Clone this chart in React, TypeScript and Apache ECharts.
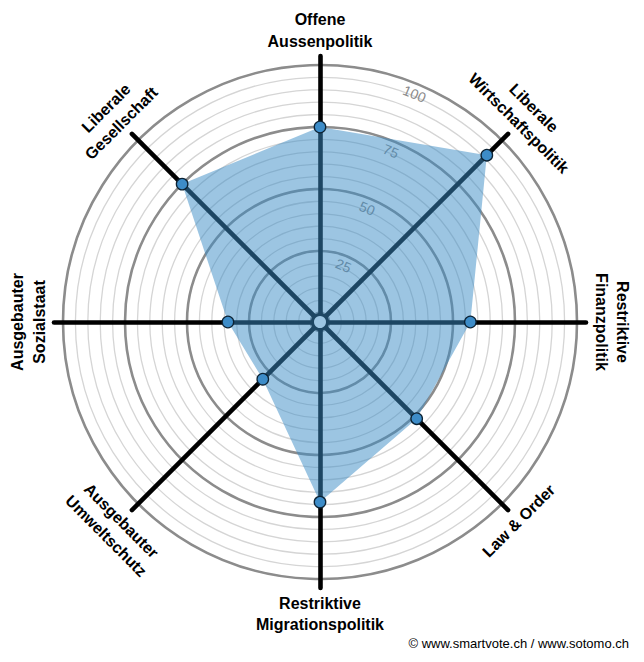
import React, { useEffect, useRef } from 'react';
import * as echarts from 'echarts';

// Categories in the radar's own order (counter-clockwise, starting at the top)
const categories = [
  'Offene\nAussenpolitik',
  'Liberale\nGesellschaft',
  'Ausgebauter\nSozialstaat',
  'Ausgebauter\nUmweltschutz',
  'Restriktive\nMigrationspolitik',
  'Law & Order',
  'Restriktive\nFinanzpolitik',
  'Liberale\nWirtschaftspolitik',
];
const values = [75, 75, 33.5, 29, 69, 51.5, 57, 91.5];
const tickValues = [25, 50, 75, 100];
const credit = '© www.smartvote.ch / www.sotomo.ch';

const CX = 320;
const CY = 322;
const R_ZERO = 9;
const R_FULL = 257;
const R_AXIS = 266;
const UNIT = (R_FULL - R_ZERO) / 100;
const AXIS_MIN = -R_ZERO / UNIT;
const AXIS_MAX = 100 + (R_AXIS - R_FULL) / UNIT;

const FONT_FAMILY = '"Liberation Sans", Arial, Helvetica, sans-serif';
const LABEL_SIZE = 16;

function buildLabels() {
  const els: any[] = [];
  const n = categories.length;
  categories.forEach((c, i) => {
    const deg = (360 - (360 / n) * i) % 360; // clockwise from top
    const theta = (deg * Math.PI) / 180;
    const inward = deg > 90 && deg < 270;
    const lines = c.split('\n');
    const ordered = inward ? lines : [...lines].reverse();
    ordered.forEach((txt, k) => {
      const r = 281 + 21.5 * k;
      const x = CX + r * Math.sin(theta);
      const y = CY - r * Math.cos(theta);
      const rot = inward ? Math.PI - theta : -theta;
      els.push({
        type: 'text',
        x,
        y,
        rotation: rot,
        z: 10,
        style: {
          text: txt,
          x: 0,
          y: 0,
          fill: '#000',
          font: `bold ${LABEL_SIZE}px ${FONT_FAMILY}`,
          fontWeight: 'bold',
          fontSize: LABEL_SIZE,
          fontFamily: FONT_FAMILY,
          align: 'center',
          verticalAlign: 'middle',
          textAlign: 'center',
          textVerticalAlign: 'middle',
        },
      });
    });
  });
  return els;
}

export default function App() {
  const ref = useRef<HTMLDivElement>(null);
  useEffect(() => {
    if (!ref.current) return;
    const chart = echarts.init(ref.current, null, { renderer: 'svg' });
    const polarRadius = [R_ZERO, R_FULL];
    chart.setOption({
      animation: false,
      backgroundColor: '#fff',
      polar: [
        { center: [CX, CY], radius: polarRadius },
        { center: [CX, CY], radius: polarRadius },
      ],
      angleAxis: [
        { polarIndex: 0, type: 'value', min: 0, max: 360, show: false, startAngle: 67.5 },
        { polarIndex: 1, type: 'value', min: 0, max: 360, show: false, startAngle: 67.5 },
      ],
      radiusAxis: [
        {
          polarIndex: 0,
          type: 'value',
          min: 0,
          max: 100,
          interval: 5,
          z: 0,
          axisLine: { show: false },
          axisTick: { show: false },
          axisLabel: { show: false },
          splitLine: { show: true, lineStyle: { color: '#d5d5d5', width: 1.3 } },
        },
        {
          polarIndex: 1,
          type: 'value',
          min: 0,
          max: 100,
          interval: 25,
          z: 0,
          axisLine: { show: false },
          axisTick: { show: false },
          axisLabel: {
            show: true,
            rotate: -22.5,
            margin: 0,
            align: 'center',
            verticalAlign: 'top',
            padding: [3, 0, 0, 0],
            color: '#8a8a8a',
            fontSize: 14,
            fontFamily: FONT_FAMILY,
            formatter: (v: number) => (tickValues.includes(v) ? String(v) : ''),
          },
          splitLine: { show: true, lineStyle: { color: '#8c8c8c', width: 2.6 } },
        },
      ],
      radar: {
        center: [CX, CY],
        radius: R_AXIS,
        startAngle: 90,
        shape: 'circle',
        splitNumber: 1,
        z: 1,
        indicator: categories.map((c) => ({ name: c, min: AXIS_MIN, max: AXIS_MAX })),
        axisName: { show: false },
        axisLine: { lineStyle: { color: '#000', width: 4.6 } },
        axisTick: { show: false },
        axisLabel: { show: false },
        splitLine: { show: false },
        splitArea: { show: false },
      },
      graphic: {
        elements: [
          {
            type: 'circle',
            z: 2,
            shape: { cx: CX, cy: CY, r: 7.5 },
            style: { fill: '#fff', stroke: '#000', lineWidth: 3 },
          },
          ...buildLabels(),
          {
            type: 'text',
            z: 10,
            x: 629,
            y: 643,
            style: {
              text: credit,
              fill: '#000',
              font: `13px ${FONT_FAMILY}`,
              fontSize: 13,
              fontFamily: FONT_FAMILY,
              align: 'right',
              verticalAlign: 'middle',
              textAlign: 'right',
              textVerticalAlign: 'middle',
            },
          },
        ],
      },
      series: [
        {
          type: 'radar',
          z: 3,
          symbol: 'circle',
          symbolSize: 11.5,
          lineStyle: { width: 0, opacity: 0 },
          areaStyle: { color: '#3a8cc6', opacity: 0.5 },
          itemStyle: { color: '#3d8cc8', borderColor: '#0c2233', borderWidth: 1.3 },
          data: [{ value: values }],
        },
      ],
    });
    return () => chart.dispose();
  }, []);
  return (
    <div
      ref={ref}
      style={{ position: 'absolute', left: 0, top: 0, width: 644, height: 662 }}
    />
  );
}
